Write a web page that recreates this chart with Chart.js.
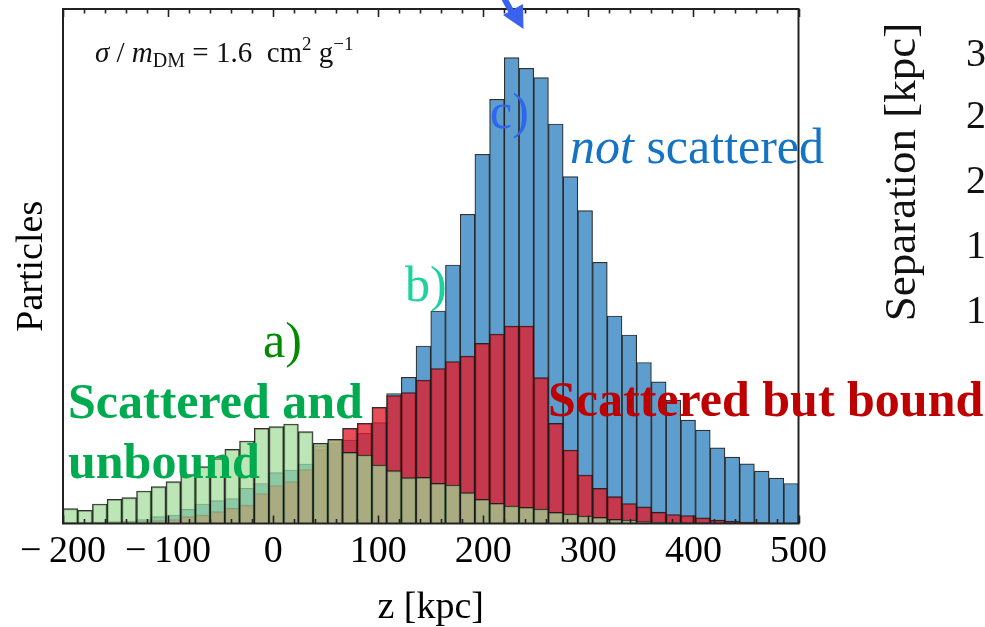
<!DOCTYPE html>
<html>
<head>
<meta charset="utf-8">
<script src="https://cdn.jsdelivr.net/npm/chart.js@4.4.1/dist/chart.umd.min.js"></script>
<style>
html,body{margin:0;padding:0;background:#fff;}
#wrap{position:relative;width:985px;height:627px;}
</style>
</head>
<body>
<div id="wrap"><canvas id="c" width="985" height="627"></canvas></div>
<script>
// Bin centres (kpc), 14 kpc wide bins from -200 to 500
const binCenters = [-193,-179,-165,-151,-137,-123,-109,-95,-81,-67,-53,-39,-25,-11,3,17,31,45,59,73,
  87,101,115,129,143,157,171,185,199,213,227,241,255,269,283,297,311,325,339,353,
  367,381,395,409,423,437,451,465,479,493];

// Particle counts (arbitrary units)
const unbound = [14.8,13.2,19.5,24.2,25.8,32.5,36.8,41.8,49,56.8,65,74.2,82.5,95.2,96.8,99.5,91.8,80.2,84.2,
  71.2,68.5,58.5,52.8,45.8,46.2,40.2,38.5,30.8,24.2,20.2,17.5,16.2,14.5,11.2,9.5,7.5,6.2,4.2,3.5,2,
  1.5,1.2,1,0.8,0.5,0.5,0.3,0.3,0.2,0.2];
const bound = [0.8,0.8,1,1.2,1.5,2,3,4,
  6.8,8.5,11.8,15.2,18.5,30,38,42,54,78,84,
  95.2,100.2,116.2,128,131,143.5,155,162,167.5,180.2,189.5,197.5,197.5,
  145.8,100.2,73.5,48.5,35.2,26.8,20,16.7,11.3,9,8,5.7,3.3,2.3,1.5,1,0.5,0.5];
const notScattered = [1,1,1.5,2,2.5,4,6.8,8.5,
  14.2,19.5,22.8,25,35.2,40,50.8,53.5,59.5,74,80,
  83.5,90.2,100.8,130,
  146.2,177.5,212.5,258.5,309.2,369.2,424.2,465.8,455.2,445.8,399.5,346.8,312.8,261.2,207.5,188.5,161,
  141.7,123.3,103.3,93.3,75.7,66.3,59.7,52.3,45.3,40];

const xMajorTicks = [-200,-100,0,100,200,300,400,500];
const sepTickLabels = ['3','2','2','1','1'];

const SERIF = "'Liberation Serif', 'Times New Roman', serif";

function pts(arr){ return binCenters.map((x,i)=>({x:x, y:arr[i]})); }

const barCommon = {grouped:false, barPercentage:1, categoryPercentage:1,
  borderColor:'rgba(25,25,25,0.9)', borderWidth:1.2};

function runs(ctx, x, y, list){
  let cx = x;
  list.forEach(r=>{
    ctx.font = r.font;
    ctx.fillStyle = r.color;
    ctx.fillText(r.text, cx, y + (r.dy||0));
    cx += ctx.measureText(r.text).width;
  });
}

const decor = {
  id:'decor',
  afterDraw(chart){
    const ctx = chart.ctx;
    const a = chart.chartArea;
    const xs = chart.scales.x;
    ctx.save();
    // frame
    ctx.strokeStyle = '#222';
    ctx.lineWidth = 2;
    ctx.strokeRect(a.left, a.top, a.right - a.left, a.bottom - a.top);
    // inward ticks top & bottom
    ctx.lineWidth = 1.6;
    for (let v = -200; v <= 500; v += 20){
      const px = Math.round(xs.getPixelForValue(v)) + 0.5;
      const len = (v % 100 === 0) ? 8 : 4.5;
      ctx.beginPath();
      ctx.moveTo(px, a.bottom); ctx.lineTo(px, a.bottom - len);
      ctx.moveTo(px, a.top); ctx.lineTo(px, a.top + len);
      ctx.stroke();
    }
    ctx.textAlign = 'left';
    ctx.textBaseline = 'alphabetic';
    const f = (s,st)=> (st||'') + ' ' + s + 'px ' + SERIF;
    runs(ctx, 95, 62, [
      {text:'σ', font:f(29,'italic'), color:'#111'},
      {text:' / ', font:f(29), color:'#111'},
      {text:'m', font:f(29,'italic'), color:'#111'},
      {text:'DM', font:f(20), color:'#111', dy:5},
      {text:' = 1.6  cm', font:f(29), color:'#111'},
      {text:'2', font:f(19), color:'#111', dy:-12},
      {text:' g', font:f(29), color:'#111'},
      {text:'−1', font:f(19), color:'#111', dy:-12}
    ]);
    runs(ctx, 263, 357, [{text:'a)', font:f(50), color:'#008a00'}]);
    runs(ctx, 405, 301, [{text:'b)', font:f(50), color:'#1ad39e'}]);
    runs(ctx, 490, 128, [{text:'c)', font:f(50), color:'#2f66ee'}]);
    runs(ctx, 570, 163, [
      {text:'not', font:f(50,'italic'), color:'#1473c3'},
      {text:' scattered', font:f(50), color:'#1473c3'}
    ]);
    runs(ctx, 68, 418, [{text:'Scattered and', font:f(50,'bold'), color:'#00ab4f'}]);
    runs(ctx, 68, 478, [{text:'unbound', font:f(50,'bold'), color:'#00ab4f'}]);
    runs(ctx, 548, 416, [{text:'Scattered but bound', font:f(50,'bold'), color:'#be0000'}]);
    // right neighbouring panel (partially visible)
    ctx.save();
    ctx.translate(903, 172);
    ctx.rotate(-Math.PI/2);
    ctx.textAlign = 'center';
    ctx.textBaseline = 'middle';
    ctx.font = f(45);
    ctx.fillStyle = '#111';
    ctx.fillText('Separation [kpc]', 0, 0);
    ctx.restore();
    ctx.font = f(40);
    ctx.fillStyle = '#111';
    ctx.textBaseline = 'middle';
    const sepY = [55,117,182,247,312];
    sepTickLabels.forEach((t,i)=> ctx.fillText(t, 966, sepY[i]));
    // blue arrow at top
    ctx.strokeStyle = '#3a62ee';
    ctx.fillStyle = '#3a62ee';
    ctx.lineWidth = 6;
    ctx.beginPath(); ctx.moveTo(504, -2); ctx.lineTo(516, 20); ctx.stroke();
    ctx.beginPath();
    ctx.moveTo(503, 15); ctx.lineTo(523.5, 29); ctx.lineTo(523, 4); ctx.closePath(); ctx.fill();
    ctx.restore();
  }
};

new Chart(document.getElementById('c'), {
  type:'bar',
  data:{
    datasets:[
      Object.assign({label:'Scattered and unbound', data:pts(unbound),
        backgroundColor:'rgba(160,220,150,0.7)'}, barCommon),
      Object.assign({label:'Scattered but bound', data:pts(bound),
        backgroundColor:'rgba(226,28,41,0.78)'}, barCommon),
      Object.assign({label:'not scattered', data:pts(notScattered),
        backgroundColor:'rgb(94,158,206)'}, barCommon)
    ]
  },
  options:{
    responsive:false,
    animation:false,
    events:[],
    layout:{padding:{top:9, right:186.5, left:0, bottom:0}},
    plugins:{legend:{display:false}, tooltip:{enabled:false}},
    scales:{
      x:{
        type:'linear', min:-200, max:500, offset:false,
        afterBuildTicks:(s)=>{ s.ticks = xMajorTicks.map(v=>({value:v})); },
        afterFit:(s)=>{ s.height = 103.5; },
        grid:{display:false, drawTicks:false, offset:false},
        border:{display:false},
        ticks:{
          padding:6,
          maxRotation:0, minRotation:0, autoSkip:false,
          color:'#000',
          font:{family:SERIF, size:38},
          callback:(v)=> v < 0 ? '\u2212\u2009' + Math.abs(v) : String(v)
        },
        title:{display:true, text:'z [kpc]', color:'#000',
          font:{family:SERIF, size:38, lineHeight:1.0}, padding:{top:0,bottom:0}}
      },
      y:{
        min:0, max:514.5,
        afterFit:(s)=>{ s.width = 63; },
        grid:{display:false, drawTicks:false},
        border:{display:false},
        ticks:{display:false},
        title:{display:true, text:'Particles', color:'#000',
          font:{family:SERIF, size:38}, padding:{top:9,bottom:0}}
      }
    }
  },
  plugins:[decor]
});
</script>
</body>
</html>
